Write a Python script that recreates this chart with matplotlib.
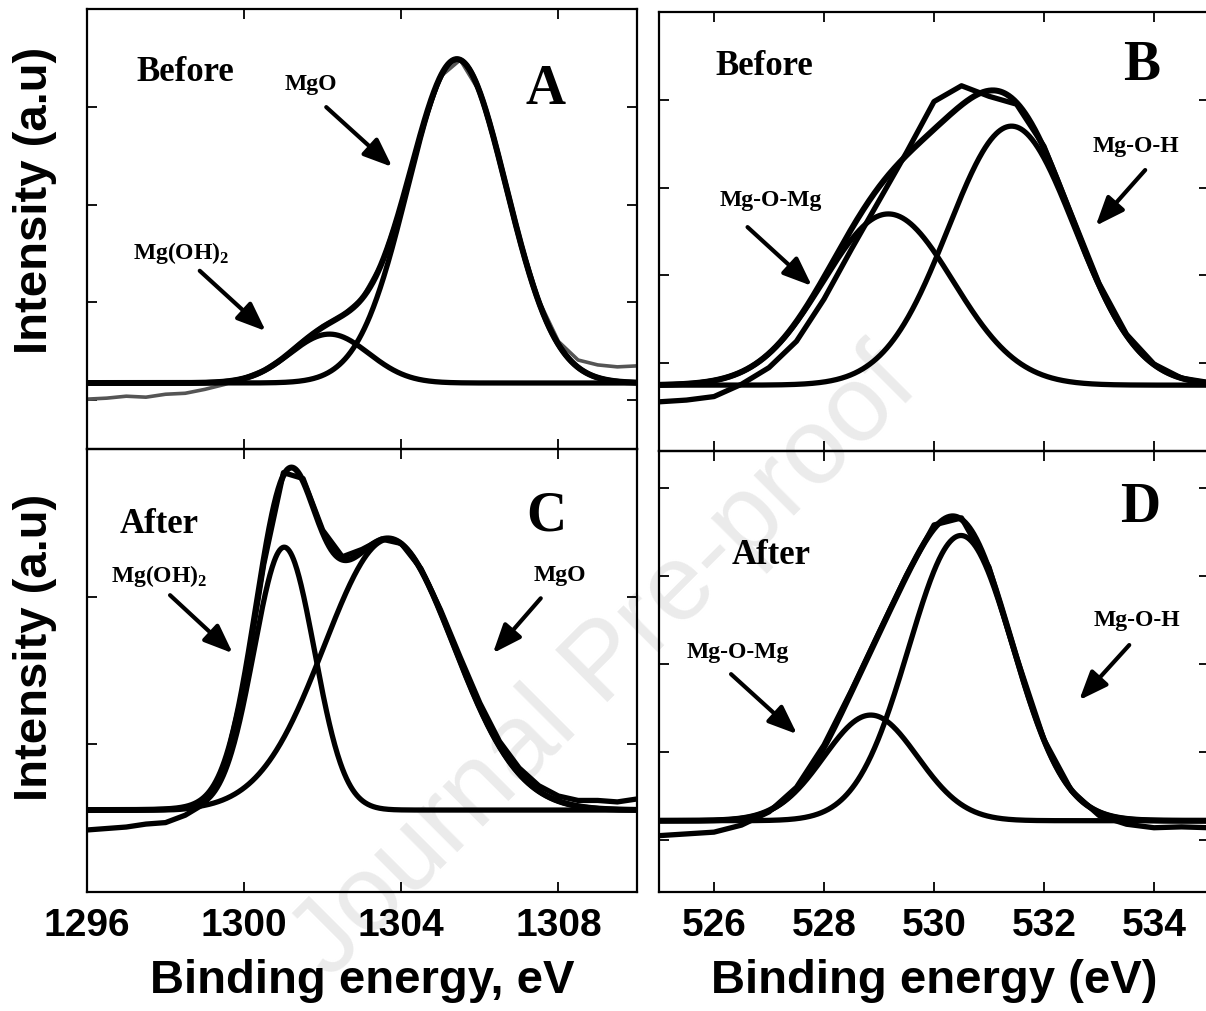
import numpy as np
import matplotlib.pyplot as plt

plt.rcParams['font.family'] = 'Liberation Sans'
plt.rcParams['font.weight'] = 'bold'
plt.rcParams['mathtext.fontset'] = 'custom'
plt.rcParams['mathtext.bf'] = 'Liberation Serif:bold'
plt.rcParams['mathtext.rm'] = 'Liberation Serif:bold'

mg_energy = np.arange(1296, 1310.01, 0.5)
o_energy = np.arange(525, 535.01, 0.5)

mg1s_before = [0.01, 0.02, 0.04, 0.03, 0.06, 0.07, 0.11, 0.16, 0.23, 0.31,
               0.44, 0.61, 0.76, 0.87, 1.04, 1.40, 2.00, 2.73, 3.31, 3.48,
               3.15, 2.46, 1.67, 1.02, 0.60, 0.41, 0.36, 0.34, 0.35]
mg1s_after = [0.42, 0.43, 0.44, 0.46, 0.47, 0.52, 0.60, 0.84, 1.40, 2.22,
              2.84, 2.80, 2.45, 2.27, 2.32, 2.39, 2.36, 2.19, 1.91, 1.59,
              1.28, 1.02, 0.84, 0.72, 0.65, 0.62, 0.62, 0.61, 0.63]
o1s_before = [0.56, 0.58, 0.62, 0.76, 0.95, 1.25, 1.73, 2.30, 2.85, 3.40,
              3.98, 4.16, 4.04, 3.95, 3.47, 2.69, 1.91, 1.33, 0.99, 0.83, 0.78]
o1s_after = [1.05, 1.07, 1.09, 1.17, 1.32, 1.60, 2.08, 2.70, 3.36, 4.01,
             4.58, 4.66, 4.10, 3.08, 2.14, 1.56, 1.28, 1.18, 1.14, 1.15, 1.14]

# ---- fitted peaks: centre (eV), height, sigma (eV) ----
mg_before_centers = [1305.42, 1302.17]   # MgO, Mg(OH)2
mg_before_heights = [3.31, 0.50]
mg_before_sigmas = [1.25, 1.0]
mg_before_base = 0.175

mg_after_centers = [1301.02, 1303.69]    # Mg(OH)2, MgO
mg_after_heights = [1.78, 1.835]
mg_after_sigmas = [0.77, 1.65]
mg_after_base = 0.555

o_before_centers = [529.17, 531.41]      # Mg-O-Mg, Mg-O-H
o_before_heights = [1.95, 2.95]
o_before_sigmas = [1.18, 1.15]
o_before_base = 0.75

o_after_centers = [528.85, 530.49]       # Mg-O-Mg, Mg-O-H
o_after_heights = [1.2, 3.24]
o_after_sigmas = [0.85, 0.95]
o_after_base = 1.22


def gauss(x, c, h, s):
    return h * np.exp(-(x - c) ** 2 / (2 * s * s))


def draw_fit(ax, energy, measured, centers, heights, sigmas, base,
             data_color='k', data_lw=3.8):
    ax.plot(energy, measured, color=data_color, lw=data_lw, zorder=2,
            solid_joinstyle='round')
    fine = np.linspace(energy[0], energy[-1], 800)
    env = np.full_like(fine, base)
    for c, h, s in zip(centers, heights, sigmas):
        comp = gauss(fine, c, h, s)
        env = env + comp
        ax.plot(fine, base + comp, color='k', lw=3.8, zorder=3)
    ax.plot(fine, env, color='k', lw=4.3, zorder=4)


def style(ax, xticks, xlim, ylim, yticks, labels):
    ax.set_xlim(*xlim)
    ax.set_ylim(*ylim)
    ax.set_xticks(xticks)
    ax.set_yticks(yticks)
    ax.tick_params(direction='in', top=True, right=True, length=7,
                   width=1.3, labelsize=28, pad=11,
                   labelbottom=labels, labelleft=False)
    for sp in ax.spines.values():
        sp.set_linewidth(1.6)
    ax.set_facecolor('none')


W, H = 1206, 1012
fig = plt.figure(figsize=(W / 100, H / 100), dpi=100)


def box(x0, y0, x1, y1):
    return [x0 / W, 1 - y1 / H, (x1 - x0) / W, (y1 - y0) / H]


axA = fig.add_axes(box(87, 10, 637, 450))
axC = fig.add_axes(box(87, 450, 637, 893))
axB = fig.add_axes(box(659, 13, 1209, 452))
axD = fig.add_axes(box(659, 452, 1209, 893))

draw_fit(axA, mg_energy, mg1s_before, mg_before_centers, mg_before_heights,
         mg_before_sigmas, mg_before_base, data_color='#555555', data_lw=2.6)
draw_fit(axC, mg_energy, mg1s_after, mg_after_centers, mg_after_heights,
         mg_after_sigmas, mg_after_base)
draw_fit(axB, o_energy, o1s_before, o_before_centers, o_before_heights,
         o_before_sigmas, o_before_base)
draw_fit(axD, o_energy, o1s_after, o_after_centers, o_after_heights,
         o_after_sigmas, o_after_base)

mg_ticks = [1296, 1300, 1304, 1308]
o_ticks = [526, 528, 530, 532, 534]
style(axA, mg_ticks, (1296, 1310), (-0.5, 4.0), [0, 1, 2, 3], False)
style(axC, mg_ticks, (1296, 1310), (0, 3), [1, 2], True)
style(axB, o_ticks, (525, 535), (0, 5), [1, 2, 3, 4], False)
style(axD, o_ticks, (525, 535), (0.41, 5.42), [1, 2, 3, 4, 5], True)

serif = 'Liberation Serif'
arrow = dict(arrowstyle='-|>,head_length=0.7,head_width=0.28', lw=3,
             color='k', mutation_scale=25, shrinkA=0, shrinkB=0)


def note(ax, text, pos, size=17):
    ax.text(pos[0], pos[1], text, transform=ax.transAxes, ha='center',
            va='center', fontsize=size, fontfamily=serif, fontweight='bold')


def point(ax, tail, head):
    ax.annotate('', xy=head, xycoords='axes fraction', xytext=tail,
                textcoords='axes fraction', arrowprops=arrow)


# panel A
note(axA, 'Before', (0.178, 0.859), 25)
note(axA, 'A', (0.833, 0.818), 40)
note(axA, 'MgO', (0.407, 0.83))
point(axA, (0.435, 0.777), (0.555, 0.641))
note(axA, r'Mg(OH)$_\mathbf{2}$', (0.171, 0.448))
point(axA, (0.205, 0.405), (0.325, 0.268))

# panel C
note(axC, 'After', (0.131, 0.831), 25)
note(axC, 'C', (0.836, 0.849), 40)
note(axC, r'Mg(OH)$_\mathbf{2}$', (0.131, 0.716))
point(axC, (0.151, 0.670), (0.265, 0.539))
note(axC, 'MgO', (0.86, 0.716))
point(axC, (0.825, 0.663), (0.738, 0.539))

# panel B
note(axB, 'Before', (0.191, 0.879), 25)
note(axB, 'B', (0.878, 0.879), 40)
note(axB, 'Mg-O-Mg', (0.204, 0.574))
point(axB, (0.161, 0.510), (0.278, 0.376))
note(axB, 'Mg-O-H', (0.867, 0.697))
point(axB, (0.884, 0.640), (0.794, 0.513))

# panel D
note(axD, 'After', (0.204, 0.766), 25)
note(axD, 'D', (0.874, 0.874), 40)
note(axD, 'Mg-O-H', (0.869, 0.617))
point(axD, (0.855, 0.560), (0.764, 0.435))
note(axD, 'Mg-O-Mg', (0.144, 0.546))
point(axD, (0.131, 0.494), (0.251, 0.358))

# axis titles
fig.text(362 / W, 1 - 993 / H, 'Binding energy, eV', ha='center',
         va='baseline', fontsize=34)
fig.text(934 / W, 1 - 993 / H, 'Binding energy (eV)', ha='center',
         va='baseline', fontsize=34)
fig.text(35 / W, 1 - 200 / H, 'Intensity (a.u)', rotation=90, ha='center',
         va='center', fontsize=34)
fig.text(35 / W, 1 - 647 / H, 'Intensity (a.u)', rotation=90, ha='center',
         va='center', fontsize=34)

# watermark
fig.text(606 / W, 1 - 665 / H, 'Journal Pre-proof', rotation=45,
         rotation_mode='anchor', ha='center', va='center', fontsize=78,
         fontweight='normal', color='#ebebeb', zorder=-1)

fig.savefig('out.png', dpi=100)
